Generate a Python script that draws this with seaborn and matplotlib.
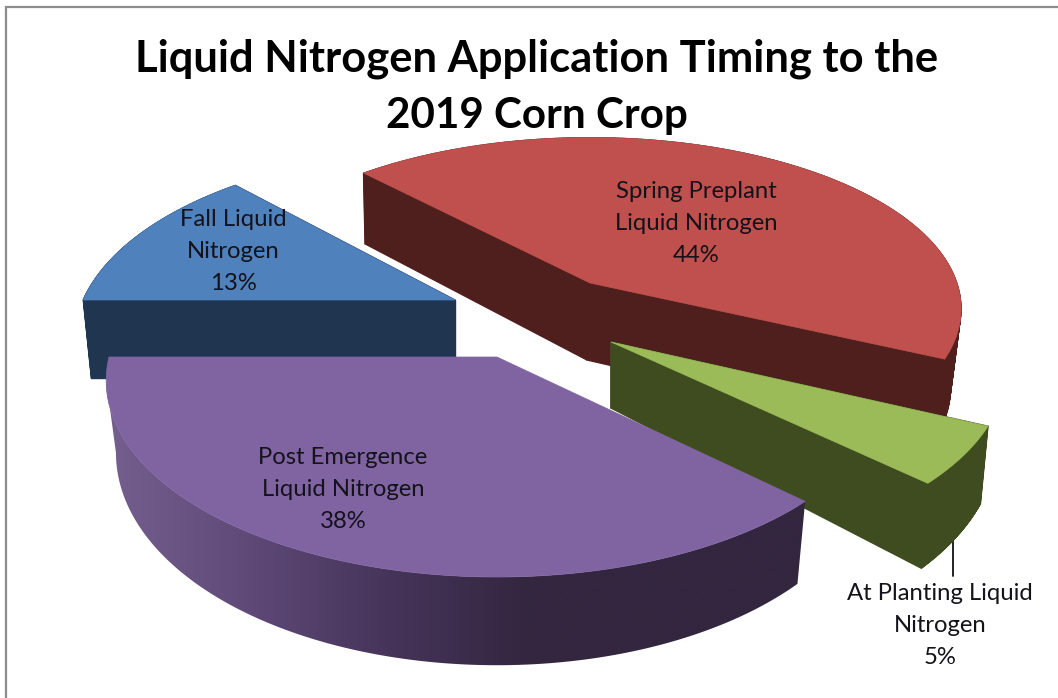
import numpy as np
import matplotlib
matplotlib.use("Agg")
import matplotlib.pyplot as plt
from matplotlib.collections import PolyCollection
from matplotlib.patches import Polygon
import seaborn as sns

# ---- data (chart order, clockwise)
categories = ["Spring Preplant Liquid Nitrogen", "At Planting Liquid Nitrogen",
              "Post Emergence Liquid Nitrogen", "Fall Liquid Nitrogen"]
label_lines = [["Spring Preplant", "Liquid Nitrogen"], ["At Planting Liquid", "Nitrogen"],
               ["Post Emergence", "Liquid Nitrogen"], ["Fall Liquid", "Nitrogen"]]
shares = [44, 5, 38, 13]
title_lines = ["Liquid Nitrogen Application Timing to the", "2019 Corn Crop"]

# ---- styling / layout
sns.set_theme(style="white")
plt.rcParams["font.family"] = ["Lato", "DejaVu Sans"]
top_cols = sns.color_palette(["#c0504d", "#9bbb59", "#8064a2", "#4f81bd"])
side_cols = ["#4f1f1e", "#3f4c20", None, "#1f3550"]
purple_cmap = sns.blend_palette(["#75608f", "#5f4a78", "#46345a", "#33263f", "#33263f", "#33263f"], 256, as_cmap=True)
FIRST_SLICE_ANGLE = 316.8
# cx, cy, R, k (tilt), p (perspective), depth, depth growth, bottom shrink, bottom shift
geom = [
    (590, 283, 367, .456, .15, 77, .11, .98, -3),
    (611, 342, 390, .475, .15, 66, .42, .98, 0),
    (497, 357, 388, .499, .12, 70, .26, .975, 0),
    (455, 300, 372, .490, .217, 78, .0, .978, 0),
]
label_pos = [(696, 191), (940, 594), (343, 458), (233, 219)]
LINE_H = 32
title_sizes = [31.3, 30.3]

def ring(phi_deg, g):
    cx, cy, R, k, p, d, gr, f, dx = g
    phi = np.radians(phi_deg)
    X, Y = np.sin(phi), np.cos(phi)
    s = 1 / (1 + p * Y)
    x = cx + R * X * s
    y = cy - R * Y * k * s
    bx = cx + (x - cx) * f + dx
    by = y + d * (1 + gr * (-Y))
    return x, y, bx, by

fig = plt.figure(figsize=(10.58, 6.98), dpi=100)
ax = fig.add_axes([0, 0, 1, 1])
ax.axis("off")

ax.plot([6, 6, 1058], [698, 7, 7], color="#8c8c8c", lw=1.6, solid_joinstyle="miter", zorder=1)

edges = np.cumsum([0] + shares) / sum(shares) * 360 + FIRST_SLICE_ANGLE
order = [3, 0, 1, 2]
grad = np.linspace(0, 1, 256).reshape(1, -1)
for z, i in enumerate(order):
    g = geom[i]
    cx, cy, d, gr, dx = g[0], g[1], g[5], g[6], g[8]
    zb = 5 + z * 3
    phis = np.linspace(edges[i], edges[i + 1], 240)
    x, y, bx, by = ring(phis, g)
    apex_b = (cx + dx, cy + d)
    if i == 2:
        # horizontal shading of the outer wall, up to its silhouette on the left
        j = int(np.argmin(x)) + 1
        rim_xy = np.column_stack([np.r_[x[:j], bx[:j][::-1]], np.r_[y[:j], by[:j][::-1]]])
        clip = Polygon(rim_xy, closed=True, transform=ax.transData, fc="none", ec="none")
        ax.add_patch(clip)
        im = ax.imshow(grad, cmap=purple_cmap, extent=(100, 820, 698, 0), aspect="auto",
                       interpolation="bilinear", zorder=zb)
        im.set_clip_path(clip)
    else:
        for j in (0, -1):
            face = [(x[j], y[j]), (cx, cy), apex_b, (bx[j], by[j])]
            ax.add_patch(Polygon(face, closed=True, fc=side_cols[i], ec=side_cols[i], lw=1.0, zorder=zb))
        quads = [[(x[n], y[n]), (x[n + 1], y[n + 1]), (bx[n + 1], by[n + 1]), (bx[n], by[n])]
                 for n in range(len(x) - 1)]
        ax.add_collection(PolyCollection(quads, facecolors=side_cols[i], edgecolors=side_cols[i],
                                         linewidths=.6, zorder=zb))
    top = np.column_stack([np.r_[cx, x], np.r_[cy, y]])
    ax.add_patch(Polygon(top, closed=True, fc=top_cols[i], ec=top_cols[i], lw=.5, zorder=zb + 1))

ax.plot([953, 953], [537, 576], color="#111111", lw=1.3, zorder=4)

for i, (px, py) in enumerate(label_pos):
    for n, line in enumerate(label_lines[i] + [f"{shares[i]}%"]):
        ax.text(px, py + n * LINE_H, line, ha="center", va="center", fontsize=17.2,
                color="#14121a", zorder=30)

for n, line in enumerate(title_lines):
    ax.text(536.5, 59 + n * 57, line, ha="center", va="center", fontsize=title_sizes[n],
            fontweight="bold", color="black", zorder=30)

ax.set_xlim(0, 1058)
ax.set_ylim(698, 0)
fig.savefig("out.png", dpi=100, facecolor="white")
